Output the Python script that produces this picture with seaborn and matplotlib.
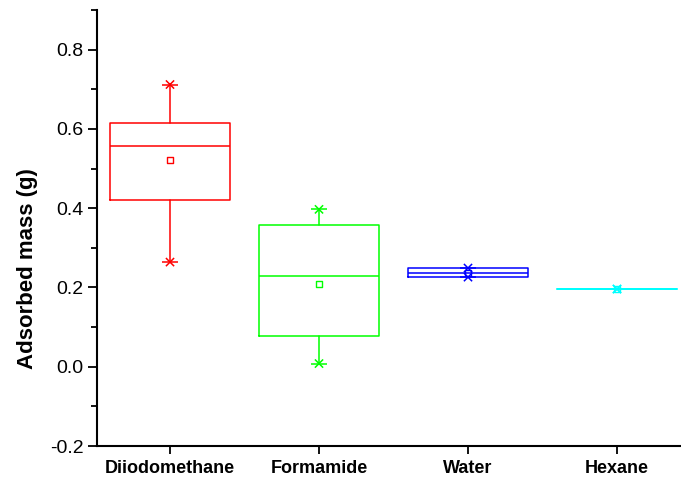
import numpy as np
import pandas as pd
import matplotlib
matplotlib.use("Agg")
import matplotlib.pyplot as plt
from matplotlib.ticker import MultipleLocator
import seaborn as sns

# Summary statistics of adsorbed mass per probe liquid
solvents = ["Diiodomethane", "Formamide", "Water", "Hexane"]
mins = [0.264, 0.008, 0.226, 0.196]
q1 = [0.420, 0.078, 0.226, 0.196]
medians = [0.556, 0.229, 0.236, 0.196]
q3 = [0.616, 0.357, 0.249, 0.196]
maxs = [0.712, 0.397, 0.249, 0.196]
means = [0.521, 0.209, 0.237, 0.196]
colors = ["#ff0000", "#00ff00", "#0000ff", "#00ffff"]

sns.set_theme(style="ticks")
plt.rcParams["font.family"] = ["Liberation Sans", "DejaVu Sans"]
plt.rcParams.update({"text.color": "black", "axes.labelcolor": "black",
                     "xtick.color": "black", "ytick.color": "black",
                     "axes.edgecolor": "black"})

fig = plt.figure(figsize=(6.81, 4.86), dpi=100)
ax = fig.add_axes([97 / 681, 1 - 446 / 486, 1 - 97 / 681, (446 - 10) / 486])

positions = np.arange(len(solvents))
df = pd.DataFrame({"pos": positions, "solvent": solvents, "min": mins,
                   "max": maxs, "mean": means})

for i, name in enumerate(solvents):
    stats = [dict(label=name, med=medians[i], q1=q1[i], q3=q3[i],
                  whislo=mins[i], whishi=maxs[i], fliers=[])]
    c = colors[i]
    ax.bxp(stats, positions=[i], widths=0.8, showcaps=False, showfliers=False,
           patch_artist=False, manage_ticks=False,
           boxprops=dict(color=c, linewidth=1.1),
           medianprops=dict(color=c, linewidth=1.1),
           whiskerprops=dict(color=c, linewidth=1.1))
    # whisker caps
    ax.hlines([mins[i], maxs[i]], i - 0.055, i + 0.055, color=c, linewidth=1.1)

pal = dict(zip(solvents, colors))
for col in ["min", "max"]:
    sns.scatterplot(data=df, x="pos", y=col, hue="solvent", palette=pal,
                    marker="x", s=35, linewidth=1.1, legend=False, ax=ax, zorder=3)
sns.scatterplot(data=df, x="pos", y="mean", hue="solvent", palette=pal,
                marker="s", s=18, legend=False, ax=ax, zorder=3)
# open squares for the means
mean_pts = ax.collections[-1]
mean_pts.set_facecolor("none")
mean_pts.set_edgecolor([matplotlib.colors.to_rgba(c) for c in colors])
mean_pts.set_linewidth(1.0)

ax.set_xlim(-0.49, 3 + 64 / 149)
ax.set_ylim(-0.2, 0.9)
ax.set_xticks(positions)
ax.set_xticklabels(solvents, fontsize=13, fontweight="bold")
ax.yaxis.set_minor_locator(MultipleLocator(0.1))
ax.set_yticks([-0.2, 0.0, 0.2, 0.4, 0.6, 0.8])
ax.set_yticklabels(["-0.2", "0.0", "0.2", "0.4", "0.6", "0.8"], fontsize=14)
ax.tick_params(axis="y", which="major", length=6.5, width=1.3, direction="out", pad=3)
ax.tick_params(axis="y", which="minor", length=4.3, width=1.3, direction="out")
ax.tick_params(axis="x", which="major", length=6, width=1.3, direction="out", pad=4)
ax.set_xlabel("")
ax.set_ylabel("Adsorbed mass (g)", fontsize=16, fontweight="bold")
ax.yaxis.set_label_coords((38 - 97) / 584, (446 - 269) / 436)

for s in ["top", "right"]:
    ax.spines[s].set_visible(False)
for s in ["left", "bottom"]:
    ax.spines[s].set_linewidth(1.5)
    ax.spines[s].set_color("black")

fig.savefig("out.png", dpi=100)
